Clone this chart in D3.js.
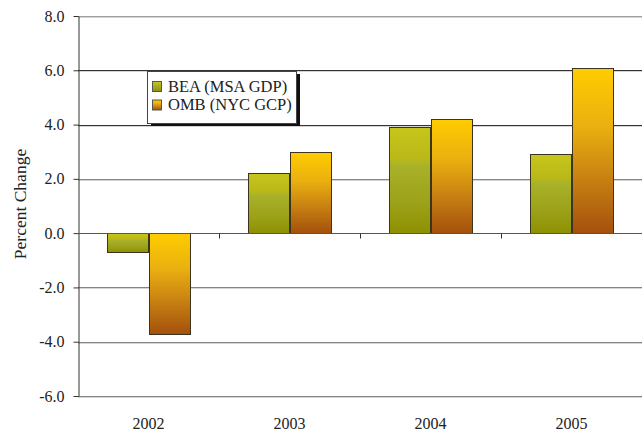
<!DOCTYPE html>
<html><head><meta charset="utf-8">
<script src="https://cdn.jsdelivr.net/npm/d3@7"></script>
<style>
body{margin:0;background:#fff;}
svg{display:block;font-family:"Liberation Serif","Times New Roman",serif;}
</style></head>
<body><svg id="c" width="642" height="432"></svg>
<script>
const categories = ["2002","2003","2004","2005"];
const seriesNames = ["BEA (MSA GDP)","OMB (NYC GCP)"];
const beaValues = [-0.7, 2.2, 3.9, 2.9];
const ombValues = [-3.7, 3.0, 4.2, 6.1];
const yTicks = [-6,-4,-2,0,2,4,6,8];
const yTitle = "Percent Change";

const svg = d3.select("#c");
const L = 78, R = 642, T = 16, B = 396;
const y = d3.scaleLinear().domain([-6,8]).range([B,T]);
const x0 = d3.scaleBand().domain(categories).range([L,R]).paddingInner(0.418).paddingOuter(0.209);
const x1 = d3.scaleBand().domain(seriesNames).range([0,x0.bandwidth()]);

const defs = svg.append("defs");
const g1 = defs.append("linearGradient").attr("id","gBEA").attr("x1",0).attr("y1",0).attr("x2",0).attr("y2",1);
[[0,"#c6c61c"],[0.3,"#b9b818"],[0.36,"#a9b22a"],[0.7,"#9ca21a"],[1,"#8e9000"]].forEach(s=>g1.append("stop").attr("offset",s[0]).attr("stop-color",s[1]));
const g2 = defs.append("linearGradient").attr("id","gOMB").attr("x1",0).attr("y1",0).attr("x2",0).attr("y2",1);
[[0,"#ffcc00"],[0.35,"#eab010"],[0.7,"#c47c12"],[1,"#a4500c"]].forEach(s=>g2.append("stop").attr("offset",s[0]).attr("stop-color",s[1]));
const fills = {"BEA (MSA GDP)":"url(#gBEA)","OMB (NYC GCP)":"url(#gOMB)"};

// gridlines
const grid = svg.append("g");
yTicks.forEach(t=>{
  if (t===0) return;
  const yy = Math.round(y(t))+0.5;
  grid.append("line").attr("x1",L).attr("x2",R).attr("y1",yy+1).attr("y2",yy+1).attr("stroke","#d4d4d4");
  grid.append("line").attr("x1",L).attr("x2",R).attr("y1",yy).attr("y2",yy)
    .attr("stroke", (t===6||t===4)?"#333":(t===8?"#a0a0a0":"#858585"));
});

// y axis
const yAxis = d3.axisLeft(y).tickValues(yTicks).tickFormat(d=>d.toFixed(1)).tickSize(5).tickSizeOuter(0);
const ya = svg.append("g").attr("transform",`translate(${L+0.5},0)`).call(yAxis)
  .attr("font-family","Liberation Serif").attr("font-size","16px");
ya.select(".domain").attr("stroke","#333");
ya.selectAll(".tick line").attr("stroke","#333");
ya.selectAll(".tick text").attr("fill","#222").attr("x",-14);

// bars
const rows = categories.map((c,i)=>({c, vals:[{s:seriesNames[0],v:beaValues[i]},{s:seriesNames[1],v:ombValues[i]}]}));
const bars = svg.append("g");
rows.forEach(r=>{
  r.vals.forEach(d=>{
    const xx = x0(r.c)+x1(d.s);
    const y0 = y(Math.max(0,d.v)), y1v = y(Math.min(0,d.v));
    bars.append("rect").attr("x",Math.round(xx)+0.5).attr("y",Math.round(y0)+0.5)
      .attr("width",Math.round(x1.bandwidth())).attr("height",Math.round(y1v)-Math.round(y0))
      .attr("fill",fills[d.s]).attr("stroke","#3a3420").attr("stroke-width",1);
  });
});

// x axis at zero
const zy = Math.round(y(0))+0.5;
svg.append("line").attr("x1",L).attr("x2",R).attr("y1",zy).attr("y2",zy).attr("stroke","#555");
const xa = svg.append("g");
categories.forEach((c,i)=>{
  if (i>0){
    const bx = Math.round(x0(c) - x0.step()*0.209)+0.5;
    xa.append("line").attr("x1",bx).attr("x2",bx).attr("y1",zy).attr("y2",zy+5).attr("stroke","#333");
  }
  xa.append("text").attr("x",x0(c)+x0.bandwidth()/2).attr("y",429).attr("text-anchor","middle")
    .attr("font-size","16px").attr("fill","#222").text(c);
});

// y title
svg.append("text").attr("transform","translate(26,204) rotate(-90)").attr("text-anchor","middle")
  .attr("font-size","17.5px").attr("fill","#222").text(yTitle);

// legend
const lg = svg.append("g");
lg.append("rect").attr("x",151).attr("y",74).attr("width",149).attr("height",52).attr("fill","#111");
lg.append("rect").attr("x",147.5).attr("y",71.5).attr("width",149).attr("height",52).attr("fill","#fff").attr("stroke","#444");
seriesNames.forEach((s,i)=>{
  const yy = 81 + i*18.5;
  lg.append("rect").attr("x",152.5).attr("y",yy+0.5).attr("width",9).attr("height",10).attr("fill",fills[s]).attr("stroke","#555");
  lg.append("text").attr("x",168).attr("y",yy+10.5).attr("font-size","16.5px").attr("fill","#222").text(s);
});
</script></body></html>
